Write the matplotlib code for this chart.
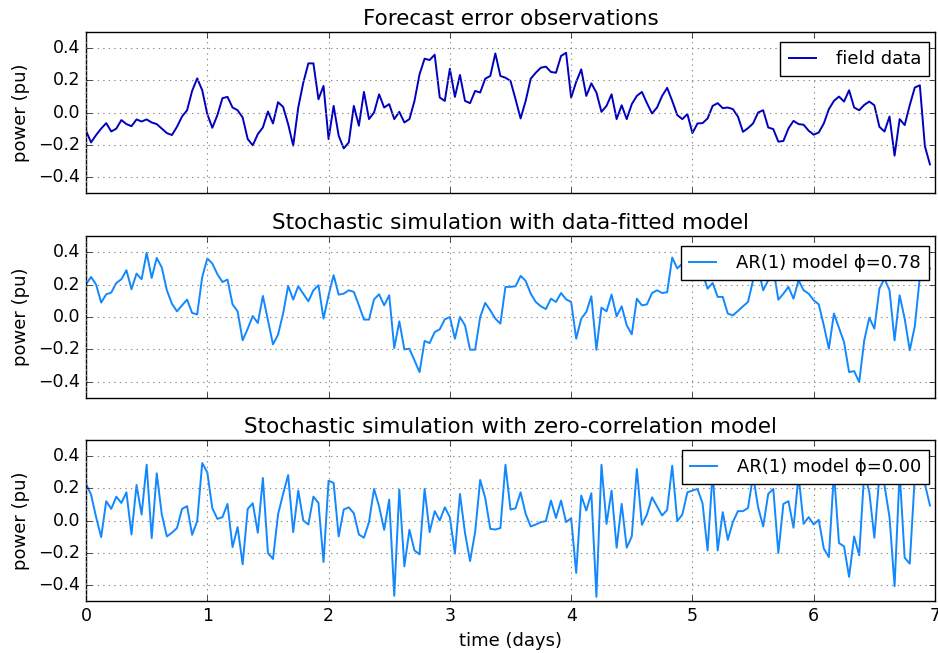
import numpy as np
import matplotlib
matplotlib.use("Agg")
import matplotlib.pyplot as plt

field_data = [
    -0.113, -0.186, -0.14, -0.10, -0.066, -0.118, -0.10, -0.047, -0.072, -0.085,
    -0.043, -0.056, -0.043, -0.062, -0.072, -0.10, -0.128, -0.14, -0.089, -0.025,
    0.014, 0.134, 0.212, 0.138, -0.01, -0.095, -0.016, 0.089, 0.097, 0.031,
    0.014, -0.031, -0.165, -0.204, -0.134, -0.093, 0.006, -0.068, 0.064, 0.035,
    -0.072, -0.206, 0.031, 0.186, 0.305, 0.305, 0.082, 0.165, -0.165, 0.041,
    -0.144, -0.223, -0.186, 0.041, -0.082, 0.128, -0.041, 0.0, 0.113, 0.031,
    0.052, -0.041, 0.004, -0.062, -0.041, 0.072, 0.237, 0.334, 0.326, 0.359,
    0.093, 0.072, 0.272, 0.097, 0.233, 0.072, 0.058, 0.134, 0.124, 0.21,
    0.227, 0.367, 0.227, 0.216, 0.196, 0.082, -0.037, 0.072, 0.21, 0.247,
    0.278, 0.285, 0.252, 0.247, 0.351, 0.371, 0.093, 0.19, 0.268, 0.103,
    0.181, 0.124, 0.004, 0.041, 0.113, -0.041, 0.045, -0.041, 0.052, 0.103,
    0.128, 0.058, -0.006, 0.031, 0.103, 0.153, 0.072, -0.016, -0.041, -0.01,
    -0.128, -0.068, -0.066, -0.037, 0.041, 0.058, 0.027, 0.031, 0.021, -0.025,
    -0.12, -0.097, -0.068, 0.0, 0.014, -0.093, -0.103, -0.181, -0.177, -0.099,
    -0.052, -0.072, -0.076, -0.113, -0.138, -0.124, -0.068, 0.021, 0.072, 0.099,
    0.068, 0.138, 0.031, 0.014, 0.047, 0.068, 0.045, -0.089, -0.118, -0.025,
    -0.268, -0.041, -0.078, 0.045, 0.155, 0.169, -0.21, -0.322,
]

ar_fitted = [
    0.202, 0.247, 0.2, 0.089, 0.14, 0.151, 0.21, 0.233, 0.289, 0.171,
    0.268, 0.233, 0.396, 0.241, 0.365, 0.305, 0.165, 0.082, 0.035, 0.072,
    0.107, 0.025, 0.016, 0.247, 0.361, 0.33, 0.264, 0.216, 0.231, 0.078,
    0.035, -0.144, -0.072, 0.006, -0.037, 0.13, -0.021, -0.169, -0.109, 0.021,
    0.192, 0.107, 0.19, 0.144, 0.097, 0.165, 0.196, -0.01, 0.134, 0.258,
    0.138, 0.144, 0.165, 0.155, 0.072, -0.016, -0.016, 0.109, 0.14, 0.072,
    0.134, -0.192, -0.027, -0.2, -0.196, -0.268, -0.34, -0.148, -0.161, -0.093,
    -0.076, -0.014, 0.0, -0.134, 0.0, -0.052, -0.202, -0.202, 0.0, 0.087,
    0.041, -0.01, -0.041, 0.186, 0.186, 0.19, 0.254, 0.223, 0.144, 0.093,
    0.066, 0.049, 0.113, 0.093, 0.148, 0.109, 0.093, -0.134, -0.01, 0.031,
    0.128, -0.202, 0.058, 0.035, 0.138, 0.004, 0.066, -0.052, -0.107, 0.113,
    0.072, 0.078, 0.148, 0.165, 0.148, 0.153, 0.367, 0.30, 0.33, 0.27,
    0.31, 0.28, 0.27, 0.175, 0.21, 0.124, 0.124, 0.021, 0.01, 0.037,
    0.066, 0.093, 0.227, 0.30, 0.165, 0.227, 0.30, 0.107, 0.144, 0.186,
    0.113, 0.227, 0.165, 0.144, 0.103, 0.078, -0.052, -0.196, 0.021, -0.068,
    -0.155, -0.34, -0.334, -0.402, -0.144, -0.004, -0.072, 0.175, 0.237, 0.165,
    -0.144, 0.134, -0.01, -0.206, -0.058, 0.247, 0.309, 0.299,
]

ar_zero = [
    0.227, 0.161, 0.021, -0.103, 0.12, 0.072, 0.148, 0.109, 0.175, -0.087,
    0.221, 0.037, 0.346, -0.109, 0.293, 0.037, -0.099, -0.076, -0.047, 0.072,
    0.089, -0.089, -0.004, 0.357, 0.299, 0.076, 0.01, 0.021, 0.103, -0.165,
    -0.041, -0.272, 0.072, 0.107, -0.076, 0.264, -0.202, -0.239, 0.037, 0.165,
    0.282, -0.072, 0.186, 0.0, -0.025, 0.148, 0.109, -0.258, 0.247, 0.233,
    -0.099, 0.068, 0.082, 0.045, -0.087, -0.107, -0.01, 0.196, 0.087, -0.058,
    0.13, -0.468, 0.192, -0.285, -0.058, -0.186, -0.21, 0.196, -0.072, 0.058,
    0.0, 0.082, 0.021, -0.206, 0.165, -0.078, -0.252, -0.072, 0.252, 0.14,
    -0.052, -0.056, -0.047, 0.346, 0.068, 0.076, 0.175, 0.041, -0.037, -0.025,
    -0.01, -0.004, 0.124, 0.016, 0.124, -0.01, 0.014, -0.326, 0.155, 0.062,
    0.169, -0.474, 0.346, -0.021, 0.186, -0.169, 0.103, -0.169, -0.099, 0.32,
    -0.027, 0.037, 0.144, 0.087, 0.031, 0.066, 0.34, -0.004, 0.037, 0.175,
    0.186, 0.196, 0.107, -0.186, 0.30, -0.186, 0.052, -0.12, -0.01, 0.058,
    0.058, 0.078, 0.28, 0.082, -0.037, 0.165, 0.196, -0.202, 0.103, 0.12,
    -0.045, 0.28, -0.021, 0.021, -0.025, 0.004, -0.175, -0.227, 0.30, -0.14,
    -0.161, -0.35, -0.099, -0.216, 0.30, 0.175, -0.107, 0.28, 0.22, 0.02,
    -0.408, 0.30, -0.231, -0.268, 0.27, 0.30, 0.227, 0.093,
]

titles = ["Forecast error observations",
          "Stochastic simulation with data-fitted model",
          "Stochastic simulation with zero-correlation model"]
labels = ["field data", "AR(1) model \u03d5=0.78", "AR(1) model \u03d5=0.00"]
colors = ["#0000c0", "#1188ff", "#1188ff"]
series = [field_data, ar_fitted, ar_zero]
yticks = [-0.4, -0.2, 0.0, 0.2, 0.4]
xticks = [0, 1, 2, 3, 4, 5, 6, 7]

plt.style.use("classic")
plt.rcParams["font.family"] = ["DejaVu Sans"]

fig = plt.figure(figsize=(9.38, 6.53), dpi=100, facecolor="white")
W, H = 938.0, 653.0
boxes = [(32, 193), (236, 398), (440, 601)]
for i, (top, bot) in enumerate(boxes):
    ax = fig.add_axes([86 / W, 1 - bot / H, 849 / W, (bot - top) / H])
    y = np.array(series[i])
    t = np.arange(len(y)) / 24.0
    ax.plot(t, y, color=colors[i], lw=1.4, label=labels[i])
    ax.set_xlim(0, 7)
    ax.set_ylim(-0.5, 0.5)
    ax.set_yticks(yticks)
    ax.set_xticks(xticks)
    ax.grid(True, color="0.55", linestyle=":", linewidth=0.8)
    ax.set_title(titles[i], fontsize=15.5, pad=5)
    ax.set_ylabel("power (pu)", fontsize=13, labelpad=6)
    ax.tick_params(labelsize=12.5)
    if i < 2:
        ax.set_xticklabels([])
    else:
        ax.set_xlabel("time (days)", fontsize=13)
    leg = ax.legend(loc="upper right", fontsize=13, numpoints=1,
                    handlelength=1.5, handletextpad=1.1, borderpad=0.45,
                    borderaxespad=0.0, framealpha=1.0,
                    bbox_to_anchor=(929 / W, 1 - (top + 10) / H),
                    bbox_transform=fig.transFigure)
    leg.get_frame().set_edgecolor("black")
    leg.get_frame().set_linewidth(1.0)

fig.savefig("out.png", dpi=100, facecolor="white")
